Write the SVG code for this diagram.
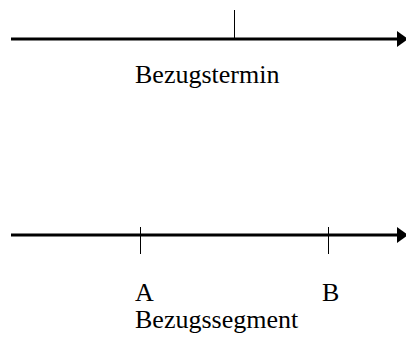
<svg xmlns="http://www.w3.org/2000/svg" width="406" height="337" viewBox="0 0 406 337">
<style>
.axis{stroke:#000;stroke-width:3;fill:none}
.tick{stroke:#000;stroke-width:1;fill:none}
.head{fill:#000}
text{font-family:"Liberation Serif","Times New Roman",serif;font-size:26px;fill:#000}
</style>
<rect width="406" height="337" fill="#fff"/>
<g id="connectors">
<line class="axis" x1="11" y1="39" x2="399" y2="39"/>
<polygon class="head" points="397,31 408,39 397,47"/>
<line class="axis" x1="11" y1="235" x2="399" y2="235"/>
<polygon class="head" points="397,227 408,235 397,243"/>
</g>
<g id="bezugstermin">
<line class="tick" x1="234.5" y1="10" x2="234.5" y2="39"/>
<text x="135" y="83">Bezugstermin</text>
</g>
<g id="pointA">
<line class="tick" x1="140.5" y1="227" x2="140.5" y2="254"/>
<text x="135" y="301">A</text>
</g>
<g id="pointB">
<line class="tick" x1="328.5" y1="227" x2="328.5" y2="254"/>
<text x="322" y="301">B</text>
</g>
<g id="bezugssegment">
<text x="135" y="328">Bezugssegment</text>
</g>
</svg>
